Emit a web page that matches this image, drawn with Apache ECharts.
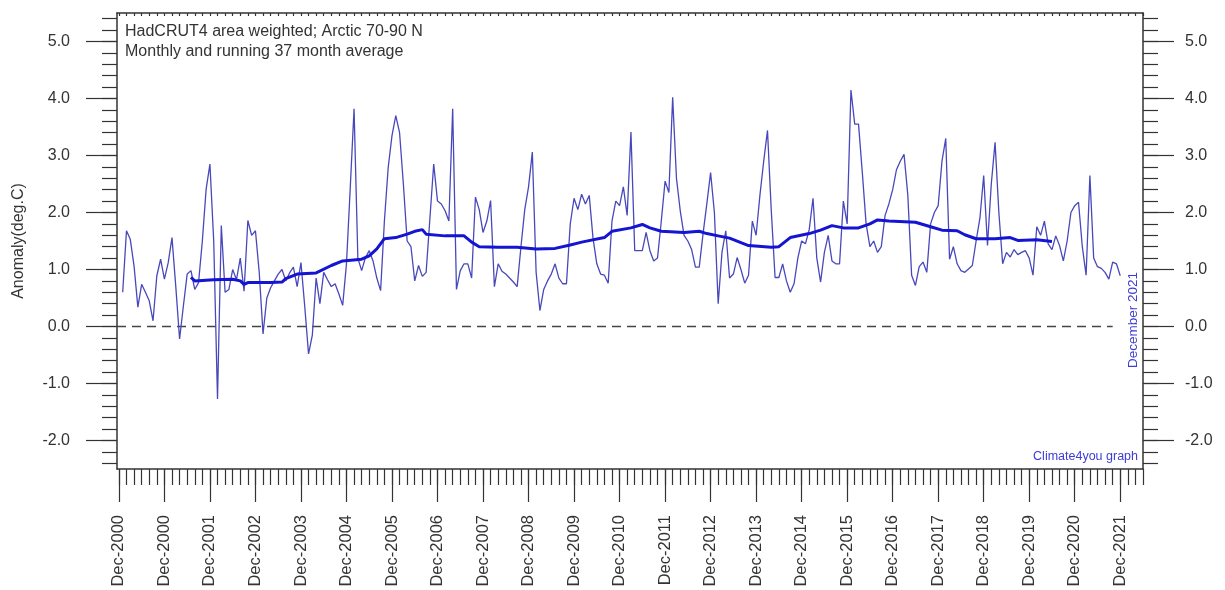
<!DOCTYPE html>
<html>
<head>
<meta charset="utf-8">
<script src="https://cdn.jsdelivr.net/npm/echarts@6/dist/echarts.min.js"></script>
<style>
  html, body { margin: 0; padding: 0; background: #ffffff; }
  #chart { width: 1225px; height: 590px; }
</style>
</head>
<body>
<div id="chart"></div>
<script>
// HadCRUT4 Arctic (70-90N) monthly anomaly, deg C, Jan 2000 .. Dec 2021 (one row per year)
const monthlyAnomaly = [
  0.60, 1.68, 1.53, 1.06, 0.34, 0.74, 0.60, 0.45, 0.10, 0.89, 1.18, 0.83,   // 2000
  1.12, 1.56, 0.70, -0.22, 0.36, 0.92, 0.98, 0.65, 0.77, 1.50, 2.41, 2.85,  // 2001
  1.50, -1.27, 1.77, 0.60, 0.65, 1.00, 0.82, 1.20, 0.62, 1.86, 1.60, 1.68,  // 2002
  0.95, -0.13, 0.50, 0.68, 0.80, 0.92, 1.00, 0.80, 0.94, 1.04, 0.70, 1.12,  // 2003
  0.35, -0.48, -0.15, 0.85, 0.40, 0.95, 0.82, 0.70, 0.75, 0.57, 0.37, 1.10, // 2004
  2.44, 3.82, 1.20, 0.98, 1.21, 1.33, 1.15, 0.85, 0.63, 1.85, 2.79, 3.35,   // 2005
  3.70, 3.40, 2.50, 1.50, 1.40, 0.80, 1.07, 0.88, 0.95, 1.90, 2.85, 2.20,   // 2006
  2.15, 2.03, 1.85, 3.82, 0.65, 0.98, 1.10, 1.10, 0.85, 2.27, 2.05, 1.65,   // 2007
  1.85, 2.21, 0.70, 1.10, 0.97, 0.92, 0.85, 0.78, 0.70, 1.40, 2.05, 2.45,   // 2008
  3.06, 0.95, 0.28, 0.65, 0.80, 0.92, 1.10, 0.85, 0.75, 0.75, 1.80, 2.25,   // 2009
  2.05, 2.32, 2.15, 2.30, 1.55, 1.10, 0.92, 0.90, 0.76, 1.85, 2.20, 2.12,   // 2010
  2.45, 1.95, 3.41, 1.33, 1.33, 1.33, 1.65, 1.33, 1.15, 1.20, 1.85, 2.55,   // 2011
  2.35, 4.02, 2.60, 2.03, 1.60, 1.50, 1.35, 1.04, 1.04, 1.62, 2.15, 2.70,   // 2012
  2.00, 0.40, 1.30, 1.68, 0.85, 0.92, 1.21, 1.00, 0.76, 0.90, 1.85, 1.60,   // 2013
  2.30, 2.90, 3.44, 2.03, 0.86, 0.86, 1.10, 0.80, 0.60, 0.75, 1.20, 1.50,   // 2014
  1.45, 1.70, 2.25, 1.20, 0.78, 1.30, 1.60, 1.15, 1.10, 1.10, 2.20, 1.80,   // 2015
  4.15, 3.55, 3.55, 2.70, 1.80, 1.40, 1.50, 1.30, 1.40, 1.95, 2.15, 2.40,   // 2016
  2.75, 2.90, 3.02, 2.30, 0.90, 0.72, 1.05, 1.13, 0.95, 1.80, 2.00, 2.12,   // 2017
  2.90, 3.30, 1.18, 1.40, 1.10, 0.98, 0.95, 1.01, 1.07, 1.50, 1.90, 2.65,   // 2018
  1.42, 2.50, 3.23, 2.00, 1.10, 1.30, 1.22, 1.35, 1.26, 1.30, 1.33, 1.20,   // 2019
  0.90, 1.75, 1.60, 1.85, 1.45, 1.35, 1.59, 1.42, 1.15, 1.50, 2.00, 2.12,   // 2020
  2.18, 1.40, 0.90, 2.65, 1.20, 1.05, 1.02, 0.95, 0.83, 1.13, 1.10, 0.89    // 2021
];

// Running 37 month average: month number (1 = Jan 2000) and value
const avgMonth = [19, 20, 25, 30, 32, 33, 34, 40, 43, 44, 47, 52, 56, 59, 64, 66, 68, 70, 73, 76,
  78, 80, 81, 86, 91, 93, 95, 100, 105, 110, 115, 119, 122, 128, 130, 135, 138, 140, 143, 149,
  153, 155, 158, 161, 166, 172, 174, 177, 182, 185, 188, 191, 195, 198, 200, 203, 210, 214, 217,
  221, 223, 226, 231, 235, 237, 242, 246];
const avgValue = [0.86, 0.80, 0.82, 0.83, 0.80, 0.74, 0.77, 0.77, 0.78, 0.84, 0.92, 0.94, 1.07, 1.15, 1.18, 1.24, 1.36, 1.54, 1.56, 1.62,
  1.67, 1.70, 1.62, 1.59, 1.59, 1.48, 1.40, 1.39, 1.39, 1.36, 1.37, 1.43, 1.48, 1.56, 1.67, 1.73, 1.79, 1.73, 1.67, 1.65,
  1.67, 1.63, 1.59, 1.55, 1.42, 1.39, 1.40, 1.56, 1.63, 1.69, 1.77, 1.73, 1.73, 1.80, 1.87, 1.85, 1.83, 1.75, 1.69,
  1.68, 1.61, 1.54, 1.54, 1.56, 1.51, 1.52, 1.49];

// Bottom axis labels, one per 12 months starting at month 0
const yearTickLabels = ['Dec-2000', 'Dec-2000', 'Dec-2001', 'Dec-2002', 'Dec-2003', 'Dec-2004', 'Dec-2005',
  'Dec-2006', 'Dec-2007', 'Dec-2008', 'Dec-2009', 'Dec-2010', 'Dec-2011', 'Dec-2012', 'Dec-2013',
  'Dec-2014', 'Dec-2015', 'Dec-2016', 'Dec-2017', 'Dec-2018', 'Dec-2019', 'Dec-2020', 'Dec-2021'];
const yTickValues = [-2, -1, 0, 1, 2, 3, 4, 5];

const titleLines = ['HadCRUT4 area weighted; Arctic 70-90 N', 'Monthly and running 37 month average'];
const yAxisName = 'Anomaly(deg.C)';
const creditText = 'Climate4you graph';
const lastMonthText = 'December 2021';

const X_MIN = -0.5, X_MAX = 270;
const Y_MIN = -2.5, Y_MAX = 5.5;
const FONT = '"Liberation Sans", Arial, sans-serif';
const AXIS_COLOR = '#333333';
const TEXT_COLOR = '#333333';
const BLUE_TEXT = '#3c3cd6';

const majorX = yearTickLabels.map((_, i) => i * 12);
const minorX = [];
for (let m = 0; m <= 270; m += 2) minorX.push(m);
const minorY = [];
for (let k = -12; k <= 27; k++) minorY.push(k / 5);

const axisLineStyle = { color: AXIS_COLOR, width: 1.5 };
const tickLineStyle = { color: AXIS_COLOR, width: 1.2 };

function xAxisBase(extra) {
  return Object.assign({
    type: 'value', min: X_MIN, max: X_MAX, gridIndex: 0,
    splitLine: { show: false }, minorTick: { show: false }
  }, extra);
}
function yAxisBase(extra) {
  return Object.assign({
    type: 'value', min: Y_MIN, max: Y_MAX, gridIndex: 0,
    splitLine: { show: false }, minorTick: { show: false }
  }, extra);
}

const chart = echarts.init(document.getElementById('chart'), null, { renderer: 'canvas' });

chart.setOption({
  animation: false,
  backgroundColor: '#ffffff',
  textStyle: { fontFamily: FONT },
  title: {
    text: titleLines.join('\n'),
    left: 125, top: 22, padding: 0,
    textStyle: { fontSize: 16, fontWeight: 'normal', color: TEXT_COLOR, lineHeight: 20, fontFamily: FONT }
  },
  grid: { left: 117, right: 82, top: 13, bottom: 121, containLabel: false, outerBoundsMode: 'none' },
  xAxis: [
    xAxisBase({
      position: 'bottom',
      axisLine: { show: true, onZero: false, lineStyle: axisLineStyle },
      axisTick: { show: true, inside: false, length: 33, customValues: majorX, lineStyle: tickLineStyle },
      axisLabel: {
        show: true, customValues: majorX, rotate: 90, margin: 46,
        fontSize: 16.5, color: TEXT_COLOR, fontFamily: FONT,
        formatter: v => yearTickLabels[Math.round(v / 12)]
      }
    }),
    xAxisBase({
      position: 'bottom',
      axisLine: { show: false, onZero: false },
      axisTick: { show: true, inside: false, length: 16, customValues: minorX, lineStyle: tickLineStyle },
      axisLabel: { show: false, customValues: minorX }
    }),
    xAxisBase({
      position: 'top',
      axisLine: { show: true, onZero: false, lineStyle: axisLineStyle },
      axisTick: { show: true, inside: true, length: 3, customValues: minorX, lineStyle: tickLineStyle },
      axisLabel: { show: false, customValues: minorX }
    })
  ],
  yAxis: [
    yAxisBase({
      position: 'left',
      name: yAxisName, nameLocation: 'middle', nameGap: 90, nameRotate: 90, nameMoveOverlap: false,
      nameTextStyle: { fontSize: 16, color: TEXT_COLOR, fontFamily: FONT },
      axisLine: { show: true, onZero: false, lineStyle: axisLineStyle },
      axisTick: { show: true, inside: false, length: 31, customValues: yTickValues, lineStyle: tickLineStyle },
      axisLabel: {
        show: true, customValues: yTickValues, margin: 47,
        fontSize: 16, color: TEXT_COLOR, fontFamily: FONT,
        formatter: v => v.toFixed(1)
      }
    }),
    yAxisBase({
      position: 'left',
      axisLine: { show: false, onZero: false },
      axisTick: { show: true, inside: false, length: 15, customValues: minorY, lineStyle: tickLineStyle },
      axisLabel: { show: false, customValues: minorY }
    }),
    yAxisBase({
      position: 'right',
      axisLine: { show: true, onZero: false, lineStyle: axisLineStyle },
      axisTick: { show: true, inside: false, length: 31, customValues: yTickValues, lineStyle: tickLineStyle },
      axisLabel: {
        show: true, customValues: yTickValues, margin: 42,
        fontSize: 16, color: TEXT_COLOR, fontFamily: FONT,
        formatter: v => v.toFixed(1)
      }
    }),
    yAxisBase({
      position: 'right',
      axisLine: { show: false, onZero: false },
      axisTick: { show: true, inside: false, length: 15, customValues: minorY, lineStyle: tickLineStyle },
      axisLabel: { show: false, customValues: minorY }
    })
  ],
  series: [
    {
      name: 'Zero',
      type: 'line', xAxisIndex: 0, yAxisIndex: 0,
      data: [[X_MIN, 0], [262, 0]],
      symbol: 'none', silent: true, z: 2,
      lineStyle: { color: '#444444', width: 1.5, type: [9, 6] }
    },
    {
      name: 'Monthly',
      type: 'line', xAxisIndex: 0, yAxisIndex: 0,
      data: monthlyAnomaly.map((v, i) => [i + 1, v]),
      symbol: 'none', z: 3,
      lineStyle: { color: '#4848bc', width: 1.3 }
    },
    {
      name: 'Running 37 month average',
      type: 'line', xAxisIndex: 0, yAxisIndex: 0,
      data: avgMonth.map((m, i) => [m, avgValue[i]]),
      symbol: 'none', z: 4,
      lineStyle: { color: '#1414d2', width: 3 }
    }
  ],
  graphic: [
    {
      type: 'text', x: 1138, y: 457, z: 10,
      style: { text: creditText, fill: BLUE_TEXT, font: '12.5px ' + FONT, align: 'right', verticalAlign: 'middle' }
    },
    {
      type: 'text', x: 1133, y: 320, rotation: Math.PI / 2, z: 10,
      style: { text: lastMonthText, fill: BLUE_TEXT, font: '13.5px ' + FONT, align: 'center', verticalAlign: 'middle' }
    }
  ]
});
</script>
</body>
</html>
